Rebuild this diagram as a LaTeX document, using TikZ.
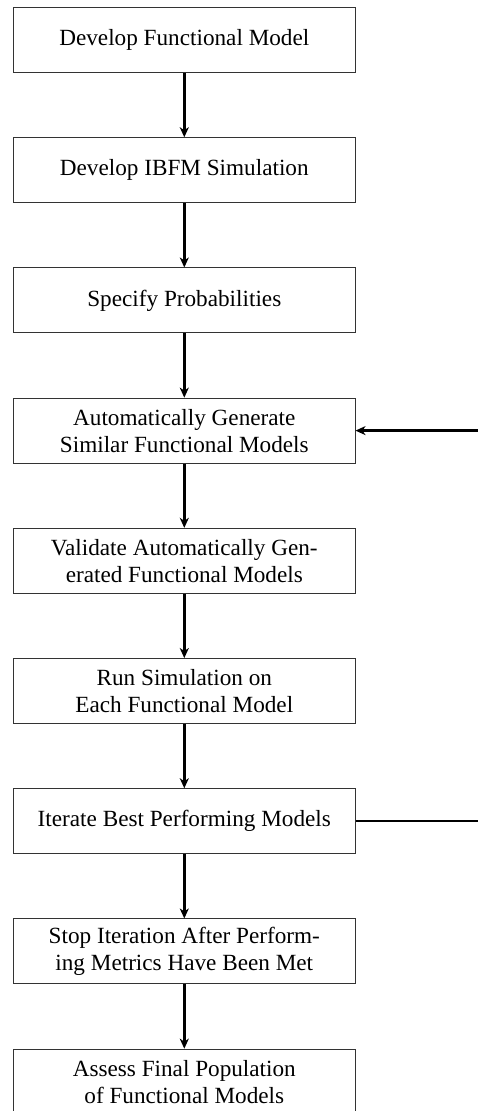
\documentclass[tikz,border=0pt]{standalone}
\usepackage{fontspec}
\setmainfont{Liberation Serif}
\usetikzlibrary{arrows.meta}
\tikzset{
  stepbox/.style={draw=black!80, line width=0.9pt, rectangle, minimum width=341.5pt, minimum height=65pt, inner sep=0pt, align=center, font=\fontsize{23.2}{27}\selectfont},
  flow/.style={line width=2.4pt, -{Stealth[length=10pt,width=9pt,inset=3pt]}},
  plain/.style={line width=2.4pt}
}
\begin{document}
\begin{tikzpicture}[x=1pt,y=-1pt]
\useasboundingbox (0,0) rectangle (477,1111);
\node[stepbox] (b1) at (184.3,40) {Develop Functional Model};
\node[stepbox] (b2) at (184.3,170.2) {Develop IBFM Simulation};
\node[stepbox] (b3) at (184.3,300.4) {Specify Probabilities};
\node[stepbox] (b4) at (184.3,430.6) {Automatically Generate\\Similar Functional Models};
\node[stepbox] (b5) at (184.3,560.8) {Validate Automatically Gen-\\erated Functional Models};
\node[stepbox] (b6) at (184.3,691) {Run Simulation on\\Each Functional Model};
\node[stepbox] (b7) at (184.3,821.2) {Iterate Best Performing Models};
\node[stepbox] (b8) at (184.3,951.4) {Stop Iteration After Perform-\\ing Metrics Have Been Met};
\node[stepbox] (b9) at (184.3,1081.6) {Assess Final Population\\of Functional Models};
\draw[flow] (b1) -- (b2);
\draw[flow] (b2) -- (b3);
\draw[flow] (b3) -- (b4);
\draw[flow] (b4) -- (b5);
\draw[flow] (b5) -- (b6);
\draw[flow] (b6) -- (b7);
\draw[flow] (b7) -- (b8);
\draw[flow] (b8) -- (b9);
\coordinate (r7) at (480,821.2);
\coordinate (r4) at (480,430.6);
\draw[plain] (b7.east) -- (r7);
\draw[flow] (r4) -- (b4.east);
\end{tikzpicture}
\end{document}
